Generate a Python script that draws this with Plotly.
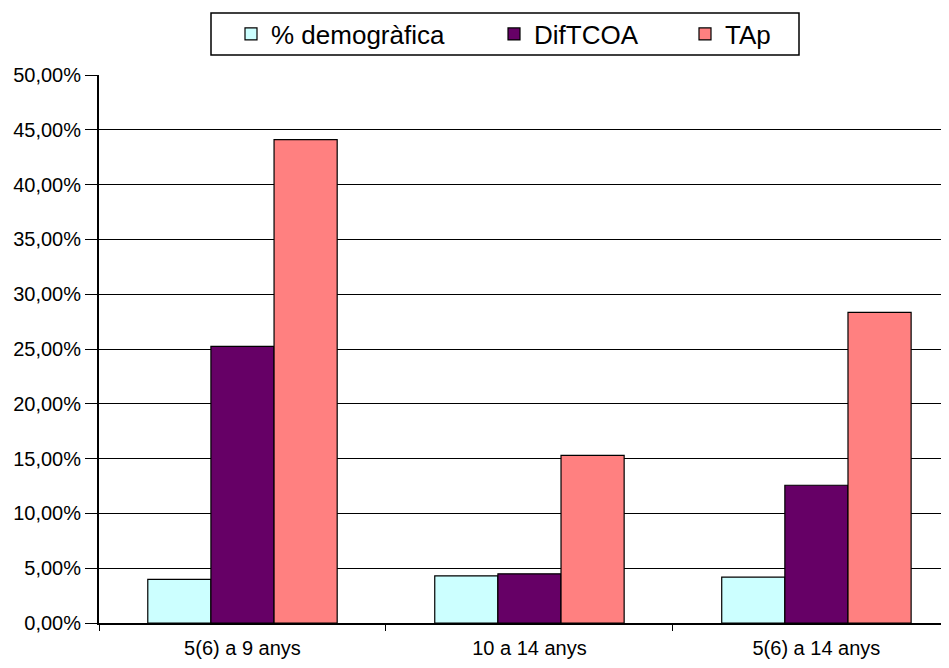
import plotly.graph_objects as go

categories = ["5(6) a 9 anys", "10 a 14 anys", "5(6) a 14 anys"]
demografica = [0.0398, 0.0430, 0.0418]
diftcoa = [0.2524, 0.0449, 0.1257]
tap = [0.4410, 0.1530, 0.2835]
y_ticks = [i * 0.05 for i in range(11)]

font_family = "Liberation Sans, Arial, sans-serif"

W, H = 941, 660  # page body adds an 8px offset
ML, MT, MB = 91, 67, 44.5
PW, PH = W - ML, H - MT - MB

series = [
    ("% demogràfica", demografica, "#CCFFFF", "legend", 223),
    ("DifTCOA", diftcoa, "#660066", "legend2", 486),
    ("TAp", tap, "#FF8080", "legend3", 677),
]

fig = go.Figure()
for name, vals, color, leg, _ in series:
    fig.add_trace(go.Bar(
        x=categories, y=vals, name=name, legend=leg,
        marker=dict(color=color, line=dict(color="black", width=1.2)),
    ))

legend_common = dict(
    orientation="h", yanchor="middle", y=1 - 26 / H, yref="container",
    xanchor="left", xref="container",
    bgcolor="rgba(0,0,0,0)", borderwidth=0,
    font=dict(size=26, family=font_family, color="black"),
)

layout_legends = {}
for name, vals, color, leg, xpx in series:
    layout_legends[leg] = dict(legend_common, x=xpx / W)

fig.update_layout(
    width=W, height=H,
    template="none",
    paper_bgcolor="white", plot_bgcolor="white",
    separators=",.",
    barmode="group", bargap=0.34, bargroupgap=0,
    margin=dict(l=ML, r=0, t=MT, b=MB, autoexpand=False),
    font=dict(family=font_family, size=20, color="black"),
    showlegend=True,
    **layout_legends,
)

# legend frame (absolute px 211..799 x 13..55 in the page)
fig.add_shape(
    type="rect", xref="paper", yref="paper",
    x0=(211 - 8 - ML) / PW, x1=(799 - 8 - ML) / PW,
    y0=(MT + PH - (55 - 8)) / PH, y1=(MT + PH - (13 - 8)) / PH,
    line=dict(color="black", width=1.5), fillcolor="rgba(0,0,0,0)",
    layer="above",
)

fig.update_yaxes(
    range=[0, 0.5], tickvals=y_ticks, tickformat=".2%",
    showgrid=True, gridcolor="black", gridwidth=1,
    showline=True, linecolor="black", linewidth=2,
    ticks="outside", ticklen=12, tickcolor="black", tickwidth=1,
    zeroline=False, automargin=False, tickfont=dict(size=20),
)
fig.update_xaxes(
    type="category", range=[-0.5, 2.462],
    showline=True, linecolor="black", linewidth=2,
    ticks="outside", tickson="boundaries", ticklen=6, tickcolor="black",
    ticklabelstandoff=6,
    showgrid=False, automargin=False, tickfont=dict(size=20),
)

fig.write_html("out.html")
